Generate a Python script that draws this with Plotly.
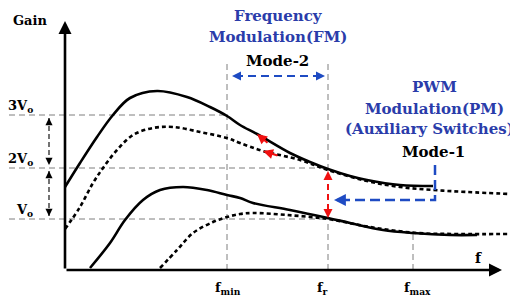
import plotly.graph_objects as go

# ---- data (arbitrary units: frequency with f_r = 263, gain with V_o = 51) ----
upper_solid_f = [0, 15, 32, 48, 65, 92, 122, 145, 162, 175, 192, 225, 245, 263, 285, 302, 335, 368]
upper_solid_g = [83, 107, 133, 155, 172, 179, 173, 163, 154, 145, 136, 117, 108, 101, 94, 90, 85, 84]
upper_dash_f = [0, 15, 28, 38, 52, 68, 88, 108, 135, 162, 175, 198, 235, 263, 302, 335, 368, 402, 445]
upper_dash_g = [41, 63, 87, 102, 120, 135, 142, 143, 138, 132, 127, 119, 110, 100, 89, 83, 80, 78, 76]
lower_solid_f = [25, 45, 60, 78, 95, 118, 142, 162, 175, 188, 225, 263, 285, 318, 348, 385, 412]
lower_solid_g = [2, 27, 50, 70, 80, 83, 80, 75, 72, 67, 60, 52, 47, 40, 37, 35, 35]
lower_dash_f = [95, 112, 128, 148, 162, 175, 188, 222, 263, 305, 352, 395, 445]
lower_dash_g = [2, 20, 37, 48, 53, 56, 57, 55, 51, 43, 37, 36, 36]

gain_levels = [51, 102, 155]
gain_labels = ["V<sub>o</sub>", "2V<sub>o</sub>", "3V<sub>o</sub>"]
freq_marks = [162, 263, 348]
freq_labels = ["f<sub>min</sub>", "f<sub>r</sub>", "f<sub>max</sub>"]

FONT = "DejaVu Serif"
BLUE_T = "#2a3caa"
BLUE_A = "#1e4bc3"
RED = "#f01010"
GRID = "#7f7f7f"

fig = go.Figure()

def line(xs, ys, color, width, dash="solid", shape="linear"):
    fig.add_trace(go.Scatter(x=xs, y=ys, mode="lines",
                             line=dict(color=color, width=width, dash=dash, shape=shape),
                             hoverinfo="skip", showlegend=False, cliponaxis=False))

# guide lines
x_left = -56
grid_end = [freq_marks[1], freq_marks[1], freq_marks[0]]
for lvl, xe in zip(gain_levels, grid_end):
    line([x_left, xe], [lvl, lvl], GRID, 1, "6px,4px")
v_top = [207, 207, lower_solid_g[14]]
for fm, top in zip(freq_marks, v_top):
    line([fm, fm], [0, top], GRID, 1, "6px,4px")

# curves
line(upper_solid_f, upper_solid_g, "black", 2.6, shape="spline")
line(upper_dash_f, upper_dash_g, "black", 2.6, "4px,3px", shape="spline")
line(lower_solid_f, lower_solid_g, "black", 2.6, shape="spline")
line(lower_dash_f, lower_dash_g, "black", 2.6, "4px,3px", shape="spline")

annotations = []

def head(x, y, tx, ty, color, width, size=1.0):
    annotations.append(dict(x=x, y=y, ax=tx, ay=ty, xref="x", yref="y", axref="x", ayref="y",
                            text="", showarrow=True, arrowhead=2, arrowsize=size,
                            arrowwidth=width, arrowcolor=color))

# axes with arrowheads
head(0, 249, 0, 0, "black", 2.6, 1.0)
head(437, 0, 0, 0, "black", 2.6, 1.0)

# left dashed double arrows
line([-16, -16], [152, 105], "black", 1.1, "5px,3px")
head(-16, 152, -16, 146, "black", 1.1, 1.3)
head(-16, 105, -16, 111, "black", 1.1, 1.3)
line([-16, -16], [99, 54], "black", 1.1, "5px,3px")
head(-16, 99, -16, 93, "black", 1.1, 1.3)
head(-16, 54, -16, 60, "black", 1.1, 1.3)

# Mode-2 blue double arrow
line([170, 257], [194, 194], BLUE_A, 2, "8px,5px")
head(167, 194, 175, 194, BLUE_A, 2, 0.9)
head(260, 194, 252, 194, BLUE_A, 2, 0.9)

# Mode-1 blue L arrow
line([370, 370, 275], [105, 70, 70], BLUE_A, 2.5, "10px,5px")
head(269, 70, 279, 70, BLUE_A, 2.5, 0.95)

# red vertical double arrow at f_r
line([263, 263], [96, 55], RED, 2, "6px,4px")
head(263, 99, 263, 91, RED, 2, 0.9)
head(263, 52, 263, 60, RED, 2, 0.9)

# red arrows along curves
head(192, 136, 204, 126, RED, 2, 1.0)
head(198, 119, 214, 114, RED, 2, 1.0)

def text(x, y, s, size, color="black", xanchor="center", xshift=0):
    annotations.append(dict(x=x, y=y, xref="x", yref="y", text=s, showarrow=False,
                            xanchor=xanchor, yanchor="middle", xshift=xshift,
                            font=dict(family=FONT, size=size, color=color)))

text(-35, 250, "<b>Gain</b>", 13)
for lvl, lab in zip(gain_levels, gain_labels):
    text(-30, lvl + 9, "<b>" + lab + "</b>", 13, xanchor="right")
for fm, lab, sh in zip(freq_marks, freq_labels, [1, -6, 4]):
    text(fm, -18, "<b>" + lab + "</b>", 13, xshift=sh)
text(413, 12, "<b>f</b>", 14)

text(213, 254, "<b>Frequency</b>", 15, BLUE_T)
text(213, 233, "<b>Modulation(FM)</b>", 15, BLUE_T)
text(212, 209, "<b>Mode-2</b>", 15)
text(369, 183, "<b>PWM</b>", 15, BLUE_T)
text(369, 161, "<b>Modulation(PM)</b>", 15, BLUE_T)
text(364, 141, "<b>(Auxiliary Switches)</b>", 15, BLUE_T)
text(368, 118, "<b>Mode-1</b>", 15)

# the page adds an 8px body margin, so the figure is 8px smaller and its ranges shifted
fig.update_layout(
    width=510, height=289,
    margin=dict(l=0, r=0, t=0, b=0),
    paper_bgcolor="white", plot_bgcolor="white",
    xaxis=dict(range=[-57, 453], visible=False, fixedrange=True),
    yaxis=dict(range=[-27, 262], visible=False, fixedrange=True),
    font=dict(family=FONT),
    annotations=annotations,
    showlegend=False,
)

fig.write_html("out.html")
